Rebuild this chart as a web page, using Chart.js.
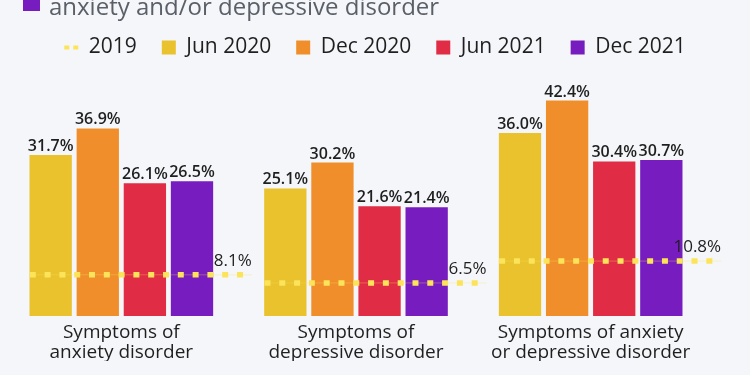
<!DOCTYPE html>
<html>
<head>
<meta charset="utf-8">
<script src="https://cdn.jsdelivr.net/npm/chart.js@4/dist/chart.umd.min.js"></script>
<style>
  html, body { margin: 0; padding: 0; background: #f4f6f9; }
  canvas { display: block; }
</style>
</head>
<body>
<canvas id="chart" width="750" height="375"></canvas>
<script>
const categories = [
  ['Symptoms of', 'anxiety disorder'],
  ['Symptoms of', 'depressive disorder'],
  ['Symptoms of anxiety', 'or depressive disorder']
];
const seriesLabels = ['2019', 'Jun 2020', 'Dec 2020', 'Jun 2021', 'Dec 2021'];
const values2019 = [8.1, 6.5, 10.8];
const valuesJun2020 = [31.7, 25.1, 36.0];
const valuesDec2020 = [36.9, 30.2, 42.4];
const valuesJun2021 = [26.1, 21.6, 30.4];
const valuesDec2021 = [26.5, 21.4, 30.7];

const colors = ['#fbe35a', '#e9c22e', '#ef8e2b', '#e02d45', '#771dbf'];
const textColor = '#1f1f1f';
const fontFamily = '"Open Sans", "Noto Sans", sans-serif';

// 2019 line runs from the left edge of each group past its last bar
const lineStart = -0.39;
const lineEnd = 0.556;
function linePoints(vals) {
  const pts = [];
  vals.forEach((v, i) => {
    pts.push({ x: i + lineStart, y: v }, { x: i + lineEnd, y: v }, { x: i + 0.8, y: null });
  });
  return pts;
}

const labelPlugin = {
  id: 'labels',
  afterDatasetsDraw(chart) {
    const ctx = chart.ctx;
    ctx.save();
    ctx.fillStyle = textColor;
    ctx.font = '600 16px ' + fontFamily;
    ctx.textBaseline = 'alphabetic';
    ctx.textAlign = 'center';
    chart.data.datasets.forEach((ds, di) => {
      if (ds.type === 'line') return;
      chart.getDatasetMeta(di).data.forEach((el, i) => {
        ctx.fillText(ds.data[i].y.toFixed(1) + '%', el.x, el.y - 4);
      });
    });
    ctx.font = '400 17px ' + fontFamily;
    ctx.textAlign = 'right';
    const meta0 = chart.getDatasetMeta(0);
    values2019.forEach((v, i) => {
      const el = meta0.data[i * 3 + 1];
      ctx.fillText(v.toFixed(1) + '%', el.x, el.y - 9);
    });
    ctx.restore();
  },
  afterDraw(chart) {
    const ctx = chart.ctx;
    ctx.save();
    ctx.fillStyle = colors[4];
    ctx.fillRect(23, -6, 17, 17);
    ctx.fillStyle = '#5a5f68';
    ctx.font = '400 24px ' + fontFamily;
    ctx.textAlign = 'left';
    ctx.textBaseline = 'alphabetic';
    ctx.fillText('anxiety and/or depressive disorder', 49, 15);
    ctx.restore();
  }
};

const barSets = [valuesJun2020, valuesDec2020, valuesJun2021, valuesDec2021].map((vals, k) => ({
  type: 'bar',
  label: seriesLabels[k + 1],
  data: vals.map((v, i) => ({ x: i, y: v })),
  backgroundColor: colors[k + 1],
  borderWidth: 0,
  order: 1,
  categoryPercentage: 0.803,
  barPercentage: 0.898
}));

new Chart(document.getElementById('chart'), {
  type: 'bar',
  data: {
    datasets: [
      {
        type: 'line',
        label: seriesLabels[0],
        data: linePoints(values2019),
        borderColor: colors[0],
        borderWidth: 5.5,
        borderDash: [6, 8.8],
        pointRadius: 0,
        spanGaps: false,
        clip: false,
        order: 0
      },
      {
        type: 'line',
        label: 'thin',
        data: linePoints(values2019),
        borderColor: 'rgba(251,228,90,0.3)',
        borderWidth: 1,
        pointRadius: 0,
        spanGaps: false,
        clip: false,
        order: 0
      },
      ...barSets
    ]
  },
  options: {
    responsive: false,
    animation: false,
    layout: { padding: { top: 12, left: 4, right: 4, bottom: 14 } },
    scales: {
      x: {
        type: 'linear',
        min: -0.5,
        max: 2.5,
        offset: false,
        grid: { display: false },
        border: { display: false },
        afterBuildTicks(scale) { scale.ticks = categories.map((c, i) => ({ value: i })); },
        ticks: {
          color: textColor,
          padding: -2,
          autoSkip: false,
          maxRotation: 0,
          callback: v => categories[v],
          font: { family: fontFamily, size: 19, lineHeight: 1.08 }
        }
      },
      y: {
        position: 'right',
        min: 0,
        max: 48.8,
        grid: { display: false },
        border: { display: false },
        ticks: { display: false },
        afterFit(scale) { scale.width = 38; }
      }
    },
    plugins: {
      legend: {
        position: 'top',
        labels: {
          color: textColor,
          font: { family: fontFamily, size: 21 },
          usePointStyle: true,
          pointStyleWidth: 14,
          boxHeight: 14,
          padding: 25,
          filter: item => item.datasetIndex !== 1,
          generateLabels(chart) {
            const items = Chart.defaults.plugins.legend.labels.generateLabels(chart);
            items.forEach(item => {
              if (item.datasetIndex === 0) {
                item.pointStyle = 'line';
                item.lineDash = [5, 4];
                item.lineWidth = 4;
                item.strokeStyle = colors[0];
              } else {
                item.pointStyle = 'rect';
                item.lineWidth = 0;
              }
            });
            return items;
          }
        }
      },
      tooltip: { enabled: false }
    }
  },
  plugins: [labelPlugin]
});
</script>
</body>
</html>
